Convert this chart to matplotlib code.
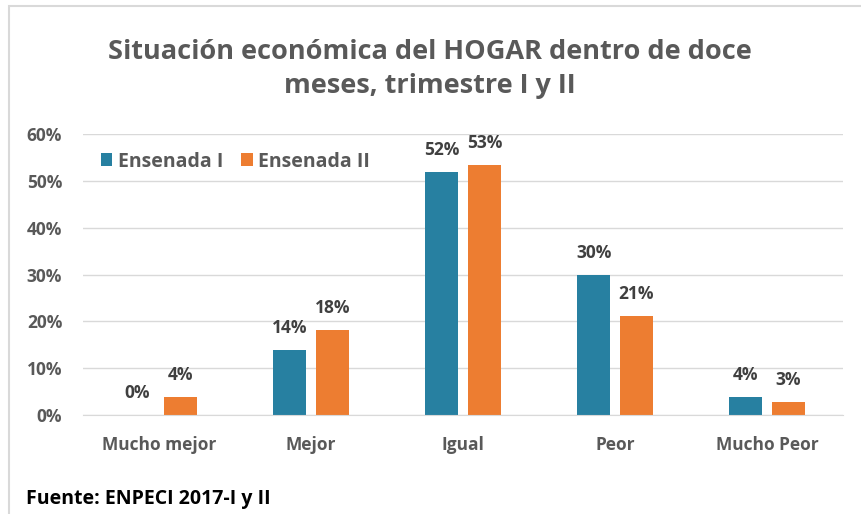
import numpy as np
import matplotlib
matplotlib.use('Agg')
import matplotlib.pyplot as plt
from matplotlib.patches import Rectangle
from matplotlib.ticker import FuncFormatter

# data
categorias = ['Mucho mejor', 'Mejor', 'Igual', 'Peor', 'Mucho Peor']
ensenada_1 = [0.0, 0.139, 0.519, 0.299, 0.039]
ensenada_2 = [0.039, 0.182, 0.534, 0.212, 0.028]
series = ['Ensenada I', 'Ensenada II']

azul = '#2780A1'
naranja = '#ED7D31'
gris = '#595959'
gris_osc = '#404040'

plt.rcParams['font.family'] = ['Open Sans', 'DejaVu Sans']

fig = plt.figure(figsize=(8.61, 5.14), dpi=100)
ax = fig.add_axes([83 / 861, 1 - 415 / 514, 760 / 861, 281 / 514])

x = np.arange(len(categorias))
w = 0.22
b1 = ax.bar(x - 0.141, ensenada_1, w, color=azul, label=series[0])
b2 = ax.bar(x + 0.141, ensenada_2, w, color=naranja, label=series[1])

for bars, vals in [(b1, ensenada_1), (b2, ensenada_2)]:
    for r, v in zip(bars, vals):
        ax.annotate('{:.0f}%'.format(v * 100), (r.get_x() + r.get_width() / 2, v),
                    xytext=(0, 15.5), textcoords='offset points', ha='center', va='center',
                    fontsize=12.5, fontweight='bold', color=gris_osc)

ax.set_xlim(-0.5, 4.5)
ax.set_ylim(0, 0.6)
ax.set_yticks(np.arange(0, 0.61, 0.1))
ax.yaxis.set_major_formatter(FuncFormatter(lambda v, p: '{:.0f}%'.format(v * 100)))
ax.set_xticks(x)
ax.set_xticklabels(categorias)
ax.tick_params(length=0, colors=gris, labelsize=12.5)
ax.tick_params(axis='x', pad=15)
ax.tick_params(axis='y', pad=15)
for lab in ax.get_xticklabels() + ax.get_yticklabels():
    lab.set_fontweight('bold')
ax.grid(axis='y', color='#d9d9d9', lw=1)
ax.set_axisbelow(True)
for s in ['top', 'right', 'left']:
    ax.spines[s].set_visible(False)
ax.spines['bottom'].set_color('#d9d9d9')

ax.legend(loc='upper left', bbox_to_anchor=(0.0, 1.0), ncol=2, frameon=False,
          handlelength=0.6, handleheight=0.6, handletextpad=0.3, columnspacing=0.9,
          prop={'size': 14, 'weight': 'bold'}, labelcolor=gris)

fig.text(430 / 861, 1 - 69 / 514, 'Situación económica del HOGAR dentro de doce\nmeses, trimestre I y II',
         ha='center', va='center', fontsize=19.5, fontweight='bold', color=gris, linespacing=1.42)
fig.text(26 / 861, 1 - 499 / 514, 'Fuente: ENPECI 2017-I y II', ha='left', va='center',
         fontsize=14, fontweight='bold', color='black')

fig.patches.append(Rectangle((9 / 861, -0.1), 1.2, 1 - 6 / 514 + 0.1, transform=fig.transFigure,
                             fill=False, edgecolor='#d9d9d9', lw=1.5))

fig.savefig('out.png', dpi=100)
